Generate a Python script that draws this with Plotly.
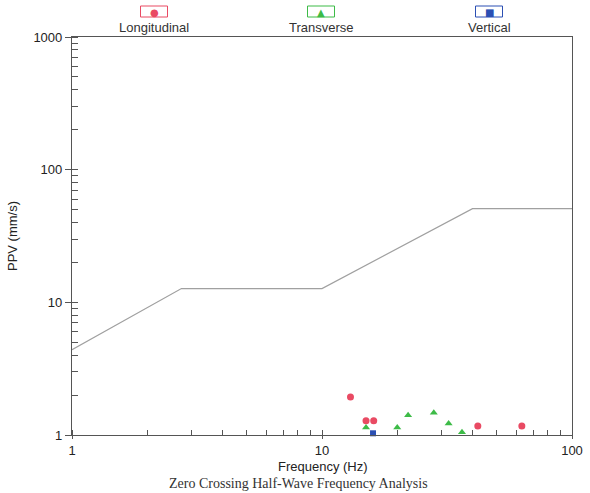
import plotly.graph_objects as go

# Criterion curve
curve_freq = [1, 2.74, 10, 40, 100]
curve_ppv = [4.4, 12.7, 12.7, 50.8, 50.8]

# Data points
long_freq = [13.0, 15.0, 16.1, 42.0, 63.0]
long_ppv = [1.93, 1.28, 1.28, 1.17, 1.17]

trans_freq = [15.0, 20.0, 22.1, 28.0, 32.1, 36.3]
trans_ppv = [1.14, 1.14, 1.41, 1.47, 1.22, 1.05]

vert_freq = [16.0]
vert_ppv = [1.03]

legend_names = ["Longitudinal", "Transverse", "Vertical"]
legend_colors = ["#e94a63", "#3dbb47", "#2b4fb3"]
legend_symbols = ["●", "▲", "■"]

x_ticks = [1, 10, 100]
y_ticks = [1, 10, 100, 1000]

PL, PT, PR, PB = 72, 37, 572, 435  # plot area in page pixels
W, H = 590, 493
PW, PH = PR - PL, PB - PT


def px(x):
    return (x - PL) / PW


def py(y):
    return (PB - y) / PH


fig = go.Figure()
fig.add_trace(go.Scatter(x=curve_freq, y=curve_ppv, mode="lines",
                         line=dict(color="#a0a0a0", width=1.2), showlegend=False))
fig.add_trace(go.Scatter(x=long_freq, y=long_ppv, mode="markers", name="Longitudinal",
                         marker=dict(color=legend_colors[0], size=7, symbol="circle"),
                         showlegend=False, cliponaxis=False))
fig.add_trace(go.Scatter(x=trans_freq, y=trans_ppv, mode="markers", name="Transverse",
                         marker=dict(color=legend_colors[1], size=7, symbol="triangle-up"),
                         showlegend=False, cliponaxis=False))
fig.add_trace(go.Scatter(x=vert_freq, y=vert_ppv, mode="markers", name="Vertical",
                         marker=dict(color=legend_colors[2], size=6, symbol="square"),
                         showlegend=False, cliponaxis=False))

# Custom legend above plot
centers = [154, 321, 489]
for name, col, sym, cx in zip(legend_names, legend_colors, legend_symbols, centers):
    fig.add_shape(type="rect", xref="paper", yref="paper",
                  x0=px(cx - 13.5), x1=px(cx + 13.5), y0=py(17), y1=py(6),
                  line=dict(color=col, width=1))
    fig.add_annotation(x=px(cx), y=py(12), xref="paper", yref="paper",
                       text=sym, showarrow=False, xanchor="center", yanchor="middle",
                       font=dict(color=col, size=10, family="DejaVu Sans"))
    fig.add_annotation(x=px(cx), y=py(28), xref="paper", yref="paper",
                       text=name, showarrow=False, xanchor="center", yanchor="middle",
                       font=dict(color="#333", size=13, family="Liberation Sans"))

# x-axis title and caption
fig.add_annotation(x=px(322.5), y=py(467), xref="paper", yref="paper",
                   text="Frequency (Hz)", showarrow=False,
                   xanchor="center", yanchor="middle",
                   font=dict(family="Liberation Sans", size=13, color="#222"))
fig.add_annotation(x=px(298.5), y=py(483.5), xref="paper", yref="paper",
                   text="Zero Crossing Half-Wave Frequency Analysis",
                   showarrow=False,
                   font=dict(family="Liberation Serif", size=14, color="#333"),
                   xanchor="center", yanchor="middle")

axis_common = dict(type="log", showgrid=False, zeroline=False, automargin=False,
                   showline=True, linecolor="#555", linewidth=1.2, mirror=True,
                   ticks="outside", tickcolor="#555",
                   tickfont=dict(family="Liberation Sans", size=13, color="#222"))

fig.update_xaxes(**axis_common, ticklen=3, range=[0, 2], tickmode="array",
                 tickvals=x_ticks, ticktext=[str(v) for v in x_ticks],
                 minor=dict(ticks="inside", ticklen=5, tickcolor="#555", dtick="D1"))
fig.update_yaxes(**axis_common, ticklen=6, range=[0, 3], tickmode="array",
                 tickvals=y_ticks, ticktext=[str(v) for v in y_ticks],
                 minor=dict(ticks="inside", ticklen=6, tickcolor="#555", dtick="D1"),
                 title=dict(text="PPV (mm/s)", standoff=12,
                            font=dict(family="Liberation Sans", size=13, color="#222")))

fig.update_layout(width=W, height=H, plot_bgcolor="white", paper_bgcolor="white",
                  margin=dict(l=PL, r=W - PR, t=PT, b=H - PB),
                  showlegend=False)

fig.write_html("out.html", config={"displayModeBar": False},
               post_script="document.body.style.margin='0';")
